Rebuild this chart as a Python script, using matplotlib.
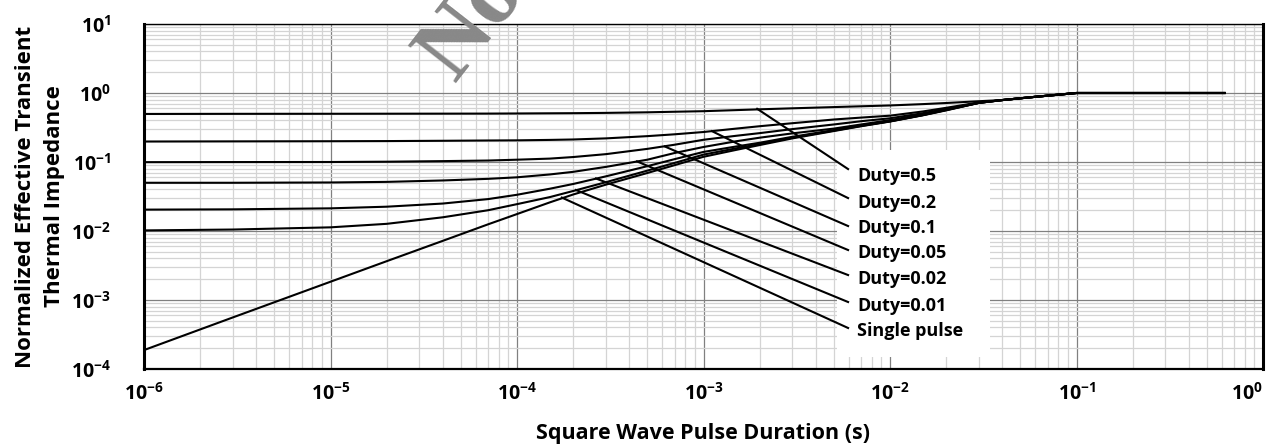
import numpy as np
import matplotlib
matplotlib.use("Agg")
import matplotlib.pyplot as plt
from matplotlib.ticker import LogLocator, NullFormatter
from matplotlib.patches import Rectangle

plt.rcParams["font.family"] = ["Open Sans", "DejaVu Sans"]
plt.rcParams["font.weight"] = "bold"
plt.rcParams["mathtext.fontset"] = "custom"
plt.rcParams["mathtext.rm"] = "Open Sans:bold"
plt.rcParams["mathtext.bf"] = "Open Sans:bold"

# pulse durations (s) at which the curves were read
pulse_t = [1e-6, 3e-6, 1e-5, 2e-5, 4e-5, 7e-5, 1e-4, 1.5e-4, 2e-4, 3e-4, 5e-4, 7e-4, 1e-3,
           1.5e-3, 2e-3, 3e-3, 5e-3, 7e-3, 1e-2, 1.5e-2, 2e-2, 3e-2, 4e-2, 6e-2, 1e-1, 6.3e-1]

z_d05 = [0.497, 0.499, 0.5, 0.501, 0.502, 0.503, 0.505, 0.508, 0.51, 0.515, 0.525, 0.535, 0.545,
         0.565, 0.58, 0.6, 0.625, 0.642, 0.66, 0.69, 0.716, 0.76, 0.79, 0.88, 1.0, 1.0]
z_d02 = [0.198, 0.199, 0.2, 0.201, 0.203, 0.205, 0.206, 0.209, 0.212, 0.22, 0.237, 0.252, 0.272,
         0.305, 0.33, 0.365, 0.413, 0.44, 0.469, 0.54, 0.61, 0.73, 0.79, 0.88, 1.0, 1.0]
z_d01 = [0.0995, 0.0998, 0.1, 0.101, 0.103, 0.105, 0.108, 0.112, 0.118, 0.13, 0.155, 0.178, 0.21,
         0.24, 0.262, 0.3, 0.35, 0.39, 0.43, 0.51, 0.585, 0.725, 0.79, 0.88, 1.0, 1.0]
z_d005 = [0.050, 0.050, 0.0505, 0.0515, 0.054, 0.057, 0.06, 0.066, 0.072, 0.085, 0.108, 0.135, 0.165,
          0.2, 0.225, 0.26, 0.305, 0.35, 0.405, 0.49, 0.58, 0.72, 0.79, 0.88, 1.0, 1.0]
z_d002 = [0.0204, 0.0206, 0.0213, 0.0225, 0.025, 0.029, 0.0335, 0.041, 0.048, 0.062, 0.087, 0.11, 0.14,
          0.168, 0.19, 0.232, 0.29, 0.338, 0.39, 0.48, 0.57, 0.72, 0.79, 0.88, 1.0, 1.0]
z_d001 = [0.0102, 0.0105, 0.0113, 0.0127, 0.0158, 0.02, 0.0245, 0.031, 0.038, 0.051, 0.075, 0.097, 0.128,
          0.158, 0.182, 0.225, 0.285, 0.333, 0.388, 0.478, 0.565, 0.72, 0.79, 0.88, 1.0, 1.0]
z_single = [1.88e-4, 5.6e-4, 1.84e-3, 3.65e-3, 7.2e-3, 0.0125, 0.0176, 0.026, 0.0338, 0.047, 0.0693, 0.09, 0.119,
            0.15, 0.176, 0.22, 0.281, 0.33, 0.386, 0.475, 0.56, 0.72, 0.79, 0.88, 1.0, 1.0]

curves = [z_d05, z_d02, z_d01, z_d005, z_d002, z_d001, z_single]
labels = ["Duty=0.5", "Duty=0.2", "Duty=0.1", "Duty=0.05", "Duty=0.02", "Duty=0.01", "Single pulse"]

# leader lines: point on curve -> point near label
lead_x0 = [1.94e-3, 1.11e-3, 6.2e-4, 4.4e-4, 2.65e-4, 2.07e-4, 1.74e-4]
lead_y0 = [0.59, 0.28, 0.168, 0.102, 0.0577, 0.0393, 0.0305]
lead_x1 = 5.96e-3
lead_y1 = [0.079, 0.030, 0.0118, 5.3e-3, 2.3e-3, 9.35e-4, 3.93e-4]
label_x = 6.65e-3
label_y = [0.0627, 0.0257, 0.011, 4.8e-3, 2.0e-3, 8.2e-4, 3.56e-4]

xticks = [1e-6, 1e-5, 1e-4, 1e-3, 1e-2, 1e-1, 1e0]
xtick_labels = [r"$10^{-6}$", r"$10^{-5}$", r"$10^{-4}$", r"$10^{-3}$", r"$10^{-2}$", r"$10^{-1}$", r"$10^{0}$"]
yticks = [1e-4, 1e-3, 1e-2, 1e-1, 1e0, 1e1]
ytick_labels = [r"$10^{-4}$", r"$10^{-3}$", r"$10^{-2}$", r"$10^{-1}$", r"$10^{0}$", r"$10^{1}$"]

fig = plt.figure(figsize=(12.69, 4.47), dpi=100)
ax = fig.add_axes([144 / 1269, 1 - 369 / 447, 1119 / 1269, 345 / 447])
ax.set_xscale("log")
ax.set_yscale("log")
ax.set_xlim(1e-6, 1e0)
ax.set_ylim(1e-4, 1e1)

ax.xaxis.set_minor_locator(LogLocator(base=10, subs=np.arange(2, 10), numticks=100))
ax.yaxis.set_minor_locator(LogLocator(base=10, subs=np.arange(2, 10), numticks=100))
ax.xaxis.set_minor_formatter(NullFormatter())
ax.yaxis.set_minor_formatter(NullFormatter())
ax.set_xticks(xticks)
ax.set_xticklabels(xtick_labels)
ax.set_yticks(yticks)
ax.set_yticklabels(ytick_labels)
ax.tick_params(which="both", length=0, labelsize=14)
ax.tick_params(axis="x", pad=10)
ax.tick_params(axis="y", pad=24)
ax.get_xticklabels()[-1].set_ha("right")

ax.set_axisbelow(True)
ax.grid(which="minor", color="#d4d4d4", lw=0.9)
ax.grid(which="major", color="#808080", lw=0.9)

for side, w in [("left", 2.2), ("right", 2.2), ("bottom", 1.6), ("top", 1.0)]:
    ax.spines[side].set_linewidth(w)

# white label panel hiding the grid
ax.add_patch(Rectangle((5.2e-3, 1.49e-4), 0.0343 - 5.2e-3, 0.149 - 1.49e-4,
                       facecolor="white", edgecolor="none", zorder=1))

for z in curves:
    ax.plot(pulse_t, z, color="black", lw=1.5, zorder=2, solid_capstyle="butt")

for i, lab in enumerate(labels):
    ax.plot([lead_x0[i], lead_x1], [lead_y0[i], lead_y1[i]], color="black", lw=1.5, zorder=2)
    ax.text(label_x, label_y[i], lab, fontsize=13, fontweight="bold", ha="left", va="center", zorder=3)

ax.set_xlabel("Square Wave Pulse Duration (s)", fontsize=15.5, fontweight="bold", labelpad=13)
ax.set_ylabel("Normalized Effective Transient\nThermal Impedance", fontsize=16, fontweight="bold",
              labelpad=4, linespacing=1.5)

# partial watermark at the top
fig.text(0.318, 0.83, "No", fontsize=68, family="Liberation Serif", color="#888888",
         rotation=52, ha="left", va="baseline", zorder=0)

fig.savefig("out.png", dpi=100)
